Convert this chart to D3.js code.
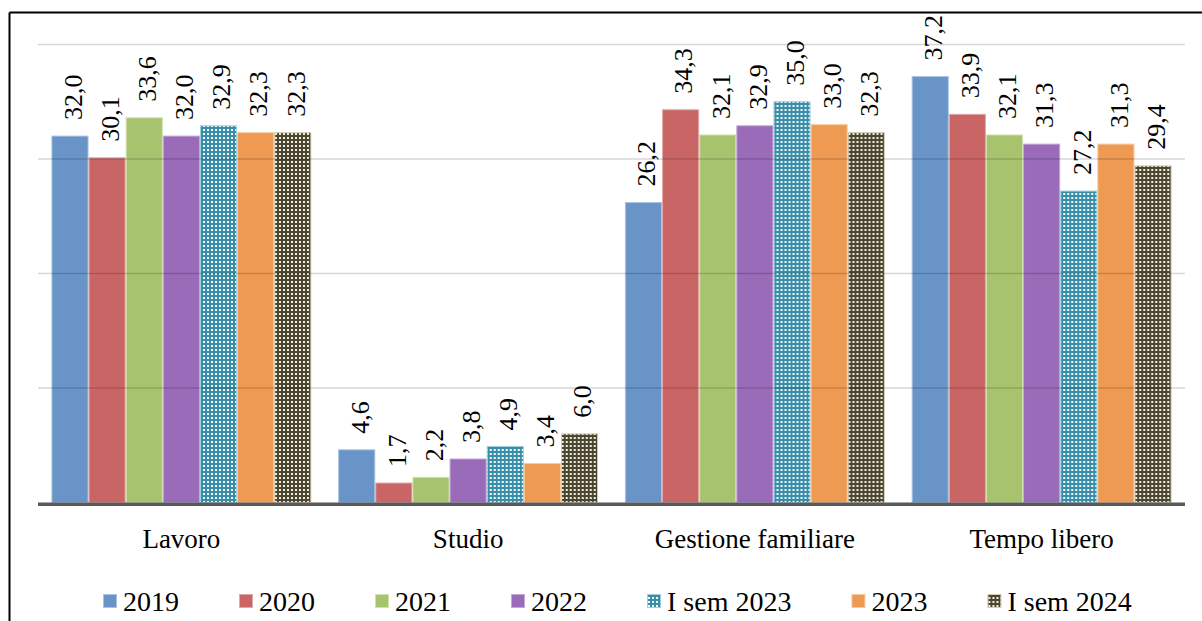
<!DOCTYPE html>
<html>
<head>
<meta charset="utf-8">
<script src="https://cdn.jsdelivr.net/npm/d3@7"></script>
<style>
  html, body { margin: 0; padding: 0; background: #fff; }
  svg { display: block; }
  text { font-family: "Liberation Serif", "Times New Roman", serif; fill: #000; }
</style>
</head>
<body>
<svg id="chart" width="1202" height="621"></svg>
<script>
// Categories, series names and values
const categories = ["Lavoro", "Studio", "Gestione familiare", "Tempo libero"];
const seriesNames = ["2019", "2020", "2021", "2022", "I sem 2023", "2023", "I sem 2024"];
const values2019 = [32.0, 4.6, 26.2, 37.2];
const values2020 = [30.1, 1.7, 34.3, 33.9];
const values2021 = [33.6, 2.2, 32.1, 32.1];
const values2022 = [32.0, 3.8, 32.9, 31.3];
const valuesSem2023 = [32.9, 4.9, 35.0, 27.2];
const values2023 = [32.3, 3.4, 33.0, 31.3];
const valuesSem2024 = [32.3, 6.0, 32.3, 29.4];
const gridTicks = [10, 20, 30, 40];

const seriesValues = [values2019, values2020, values2021, values2022, valuesSem2023, values2023, valuesSem2024];

// Fill styles per series: plain fills, and two dotted patterns
const styles = [
  { fill: "#6894c8", stroke: "#a9c3e3" },
  { fill: "#c96665", stroke: "#e4a7a6" },
  { fill: "#a8c36e", stroke: "#d2e2af" },
  { fill: "#996bb9", stroke: "#c3a8d8" },
  { fill: "url(#dotsTeal)", stroke: "#9fd0de" },
  { fill: "#ef9a52", stroke: "#f8c9a1" },
  { fill: "url(#dotsOlive)", stroke: "#d6d0b4" }
];

const svg = d3.select("#chart");
const defs = svg.append("defs");

function dotPattern(id, bg, dot) {
  const p = defs.append("pattern")
    .attr("id", id)
    .attr("patternUnits", "userSpaceOnUse")
    .attr("width", 4).attr("height", 4);
  p.append("rect").attr("width", 4).attr("height", 4).attr("fill", bg);
  p.append("rect").attr("x", 1).attr("y", 1).attr("width", 2).attr("height", 2).attr("fill", dot);
}
dotPattern("dotsTeal", "#3a8da6", "#f4fbfd");
dotPattern("dotsOlive", "#4b4631", "#f2eedc");

// Plot geometry
const plotLeft = 38, plotRight = 1185;
const y = d3.scaleLinear().domain([0, 40]).range([502.5, 44.5]);

const x0 = d3.scaleBand().domain(categories).range([plotLeft, plotRight]).padding(0);
const groupPad = 13.4;
const x1 = d3.scaleBand().domain(seriesNames)
  .range([groupPad, x0.bandwidth() - groupPad]).padding(0);

const fmt = v => d3.format(".1f")(v).replace(".", ",");

// Outer frame (left and top edges)
svg.append("line").attr("x1", 9.5).attr("x2", 9.5).attr("y1", 12.5).attr("y2", 621)
  .attr("stroke", "#000").attr("stroke-width", 2);
svg.append("line").attr("x1", 9.5).attr("x2", 1202).attr("y1", 12.5).attr("y2", 12.5)
  .attr("stroke", "#000").attr("stroke-width", 2);

// Bars
const groups = svg.append("g").selectAll("g")
  .data(categories)
  .join("g")
  .attr("transform", d => `translate(${x0(d)},0)`);

groups.each(function (cat, ci) {
  const g = d3.select(this);
  seriesNames.forEach((s, si) => {
    const v = seriesValues[si][ci];
    g.append("rect")
      .attr("x", x1(s) + 0.5)
      .attr("y", y(v))
      .attr("width", x1.bandwidth() - 1)
      .attr("height", y(0) - y(v))
      .attr("fill", styles[si].fill)
      .attr("stroke", styles[si].stroke)
      .attr("stroke-width", 1);
  });
});

// Horizontal gridlines, drawn translucent over the bars
svg.append("g").selectAll("line")
  .data(gridTicks)
  .join("line")
  .attr("x1", plotLeft).attr("x2", plotRight)
  .attr("y1", d => y(d)).attr("y2", d => y(d))
  .attr("stroke", "rgba(0,0,0,0.16)")
  .attr("stroke-width", 1.6);

// Category axis line
svg.append("line")
  .attr("x1", plotLeft).attr("x2", plotRight)
  .attr("y1", y(0) + 1.7).attr("y2", y(0) + 1.7)
  .attr("stroke", "#595959").attr("stroke-width", 3.5);

// Value labels, rotated
groups.each(function (cat, ci) {
  const g = d3.select(this);
  seriesNames.forEach((s, si) => {
    const v = seriesValues[si][ci];
    const cx = x1(s) + x1.bandwidth() / 2 + 3;
    const ty = y(v) - 16;
    g.append("text")
      .attr("transform", `translate(${cx},${ty}) rotate(-90)`)
      .attr("dy", "0.34em")
      .attr("text-anchor", "start")
      .style("font-size", "26px")
      .text(fmt(v));
  });
});

// Category labels
svg.append("g").selectAll("text")
  .data(categories)
  .join("text")
  .attr("x", d => x0(d) + x0.bandwidth() / 2)
  .attr("y", 548)
  .attr("text-anchor", "middle")
  .style("font-size", "27px")
  .text(d => d);

// Legend
const legend = svg.append("g");
let lx = 103;
seriesNames.forEach((s, si) => {
  const item = legend.append("g").attr("transform", `translate(${lx},0)`);
  item.append("rect")
    .attr("x", 0.5).attr("y", 594.5)
    .attr("width", 13).attr("height", 13)
    .attr("fill", styles[si].fill)
    .attr("stroke", styles[si].stroke)
    .attr("stroke-width", 1);
  const t = item.append("text")
    .attr("x", 20).attr("y", 611)
    .style("font-size", "28px")
    .text(s);
  lx += 20 + t.node().getComputedTextLength() + 60;
});
</script>
</body>
</html>
